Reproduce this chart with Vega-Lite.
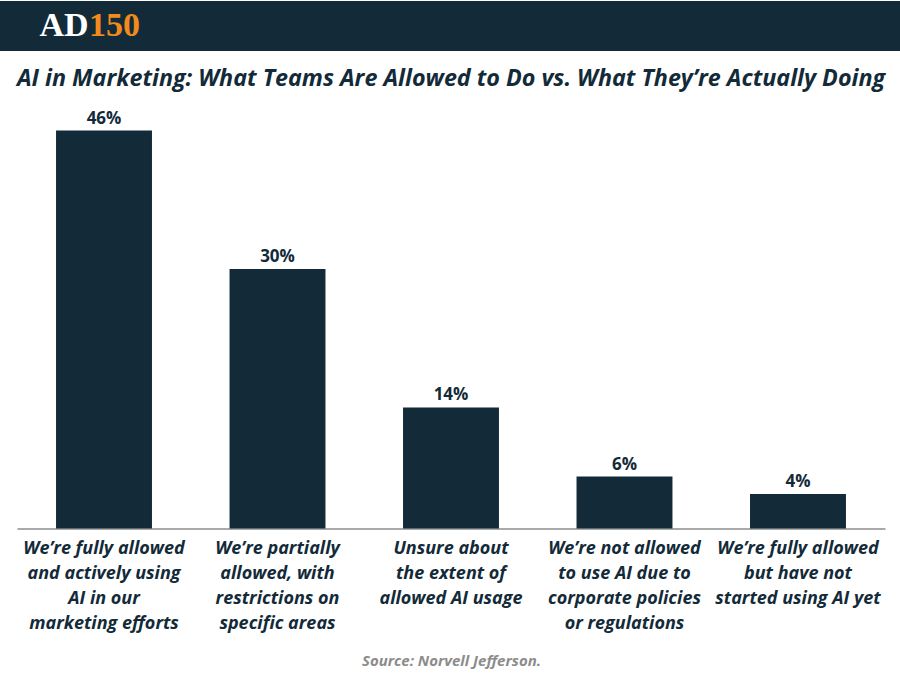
{
  "$schema": "https://vega.github.io/schema/vega-lite/v6.json",
  "padding": {"left": 0, "right": 0, "top": -8, "bottom": 0},
  "spacing": 6,
  "background": "white",
  "config": {"view": {"stroke": null}},
  "vconcat": [
    {
      "width": 866,
      "height": 16,
      "view": {"fill": "#132a38", "stroke": "#132a38", "strokeWidth": 34},
      "data": {"values": [{"part": "AD"}, {"part": "150"}]},
      "mark": {"type": "text", "font": "Liberation Serif", "fontWeight": "bold", "fontSize": 34, "baseline": "middle", "align": "center"},
      "encoding": {
        "text": {"field": "part"},
        "x": {"field": "part", "type": "nominal", "axis": null,
              "scale": {"type": "point", "domain": ["AD", "150"], "range": [47, 97.5], "padding": 0}},
        "color": {"field": "part", "type": "nominal", "legend": null,
                  "scale": {"domain": ["AD", "150"], "range": ["#ffffff", "#f28a1e"]}}
      }
    },
    {
      "width": 868,
      "height": 432.5,
      "title": {
        "text": "AI in Marketing: What Teams Are Allowed to Do vs. What They’re Actually Doing",
        "font": "Open Sans", "fontSize": 23.3, "fontStyle": "italic", "fontWeight": "bold",
        "color": "#132a38", "anchor": "middle", "offset": 5
      },
      "data": {"values": [
        {"category": "We’re fully allowed|and actively using|AI in our|marketing efforts", "value": 46, "label": "46%"},
        {"category": "We’re partially|allowed, with|restrictions on|specific areas", "value": 30, "label": "30%"},
        {"category": "Unsure about|the extent of|allowed AI usage", "value": 14, "label": "14%"},
        {"category": "We’re not allowed|to use AI due to|corporate policies|or regulations", "value": 6, "label": "6%"},
        {"category": "We’re fully allowed|but have not|started using AI yet", "value": 4, "label": "4%"}
      ]},
      "encoding": {
        "x": {"field": "category", "type": "nominal", "sort": null,
              "scale": {"paddingInner": 0.447, "paddingOuter": 0.225},
              "axis": {
                "labelExpr": "split(datum.label, '|')",
                "labelAngle": 0, "labelLimit": 0, "ticks": false,
                "labelFont": "Open Sans", "labelFontSize": 18, "labelFontStyle": "italic", "labelFontWeight": "bold",
                "labelColor": "#132a38", "labelLineHeight": 25, "labelPadding": 11,
                "domainColor": "#555555", "domainWidth": 1,
                "title": "Source: Norvell Jefferson.",
                "titleFont": "Open Sans", "titleFontSize": 15, "titleFontStyle": "italic", "titleFontWeight": "bold",
                "titleColor": "#8c8c8c", "titlePadding": 21
              }},
        "y": {"field": "value", "type": "quantitative",
              "scale": {"domain": [0, 50], "nice": false},
              "axis": {"labels": false, "ticks": false, "domain": false, "grid": false, "title": null, "minExtent": 17, "maxExtent": 17}}
      },
      "layer": [
        {"mark": {"type": "bar", "color": "#132a38"}},
        {"mark": {"type": "text", "font": "Open Sans", "fontSize": 17, "fontWeight": "bold", "color": "#132a38", "baseline": "alphabetic", "dy": -7},
         "encoding": {"text": {"field": "label"}}}
      ]
    }
  ]
}
